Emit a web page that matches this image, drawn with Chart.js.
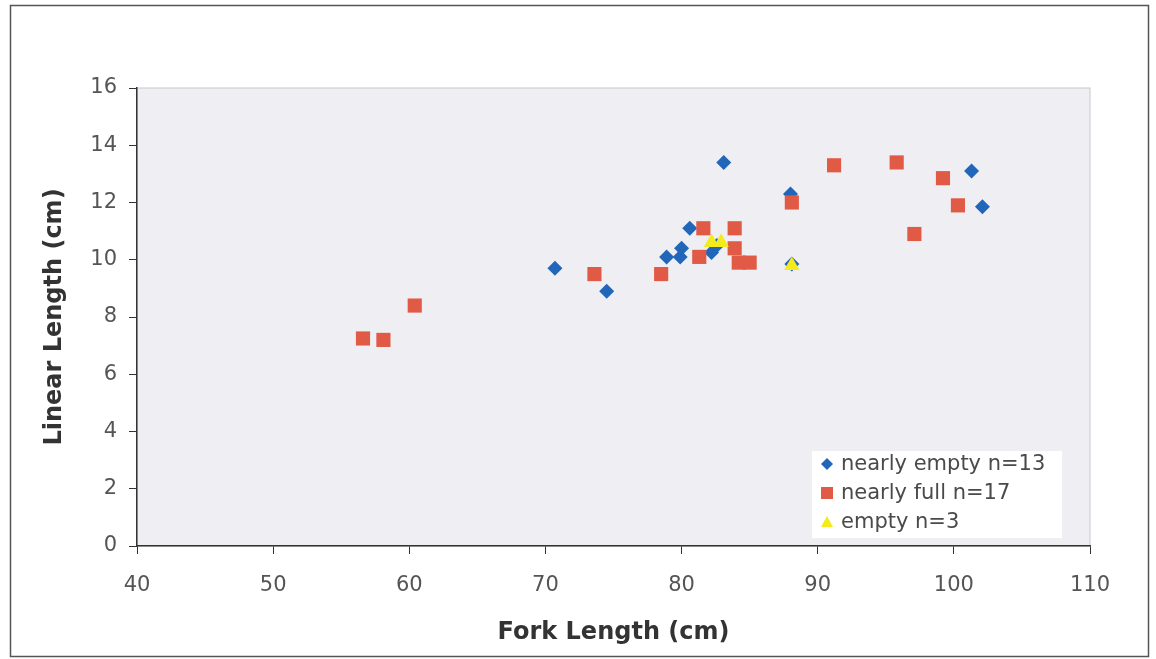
<!DOCTYPE html>
<html>
<head>
<meta charset="utf-8">
<script src="https://cdn.jsdelivr.net/npm/chart.js@4.4.1/dist/chart.umd.min.js"></script>
<style>
    html, body { margin: 0; padding: 0; background: #ffffff; }
    #caja { width: 1156px; height: 659px; position: relative; }
</style>
</head>
<body>
<div id="caja"><canvas id="grafico"></canvas></div>
<script>
//Datos
const casiVacioX = [70.7, 74.5, 83.1, 88.0, 80.6, 80.0, 79.9, 78.9, 82.2, 101.3, 102.1, 88.1, 82.6];
const casiVacioY = [9.7, 8.9, 13.4, 12.3, 11.1, 10.4, 10.1, 10.1, 10.25, 13.1, 11.85, 9.85, 10.5];
const casiLlenoX = [56.6, 58.1, 60.4, 73.6, 78.5, 81.6, 83.9, 81.3, 83.9, 84.2, 85.0, 88.1, 91.2, 95.8, 99.2, 100.3, 97.1];
const casiLlenoY = [7.25, 7.2, 8.4, 9.5, 9.5, 11.1, 11.1, 10.1, 10.4, 9.9, 9.9, 12.0, 13.3, 13.4, 12.85, 11.9, 10.9];
const vacioX = [82.2, 82.9, 88.1];
const vacioY = [10.6, 10.6, 9.8];
const etiquetas = ["nearly empty n=13", "nearly full n=17", "empty n=3"];

function puntos(xs, ys) {
    return xs.map((x, i) => ({ x: x, y: ys[i] }));
}

//Fondo del área, marco exterior y leyenda dentro del gráfico
const adornos = {
    id: "adornos",
    beforeDraw(chart) {
        const { ctx, chartArea } = chart;
        ctx.save();
        ctx.fillStyle = "#ffffff";
        ctx.fillRect(0, 0, chart.width, chart.height);
        ctx.strokeStyle = "#555555";
        ctx.lineWidth = 1.5;
        ctx.strokeRect(10.5, 5.5, 1138, 651);
        ctx.fillStyle = "#eeeef3";
        ctx.fillRect(chartArea.left, chartArea.top, chartArea.right - chartArea.left, chartArea.bottom - chartArea.top);
        ctx.strokeStyle = "#c8c8cc";
        ctx.lineWidth = 1;
        ctx.strokeRect(chartArea.left, chartArea.top, chartArea.right - chartArea.left, chartArea.bottom - chartArea.top);
        ctx.restore();
    },
    afterDraw(chart) {
        const { ctx } = chart;
        ctx.save();
        ctx.fillStyle = "#ffffff";
        ctx.fillRect(812, 451, 250, 87);
        ctx.font = "21px 'DejaVu Sans'";
        ctx.textBaseline = "middle";
        chart.data.datasets.forEach((ds, i) => {
            const y = 464 + i * 29;
            ctx.fillStyle = ds.backgroundColor;
            ctx.beginPath();
            if (ds.pointStyle === "rectRot") {
                ctx.moveTo(827, y - 6); ctx.lineTo(833, y); ctx.lineTo(827, y + 6); ctx.lineTo(821, y);
            } else if (ds.pointStyle === "rect") {
                ctx.rect(821, y - 6, 12, 12);
            } else {
                ctx.moveTo(827, y - 6); ctx.lineTo(833, y + 5); ctx.lineTo(821, y + 5);
            }
            ctx.closePath();
            ctx.fill();
            ctx.fillStyle = "#4a4a4a";
            ctx.fillText(ds.label, 841, y + 1);
        });
        ctx.restore();
    },
};

new Chart(document.getElementById("grafico"), {
    type: "scatter",
    data: {
        datasets: [
            {
                label: etiquetas[0],
                data: puntos(casiVacioX, casiVacioY),
                pointStyle: "rectRot",
                pointRadius: 7.5,
                backgroundColor: "#2166b8",
                borderColor: "#2166b8",
                borderWidth: 0,
                order: 2,
            },
            {
                label: etiquetas[1],
                data: puntos(casiLlenoX, casiLlenoY),
                pointStyle: "rect",
                pointRadius: 10,
                backgroundColor: "#e15a45",
                borderColor: "#e15a45",
                borderWidth: 0,
                order: 1,
            },
            {
                label: etiquetas[2],
                data: puntos(vacioX, vacioY),
                pointStyle: "triangle",
                pointRadius: 9,
                backgroundColor: "#f4ea1c",
                borderColor: "#f4ea1c",
                borderWidth: 0,
                order: 0,
            },
        ],
    },
    options: {
        responsive: true,
        maintainAspectRatio: false,
        animation: false,
        events: [],
        layout: {
            padding: { top: 88, right: 66, left: 38, bottom: 0 },
        },
        plugins: {
            legend: { display: false },
            tooltip: { enabled: false },
        },
        scales: {
            x: {
                type: "linear",
                min: 40,
                max: 110,
                afterFit: (escala) => { escala.height = 113; },
                ticks: {
                    stepSize: 10,
                    color: "#555555",
                    font: { family: "DejaVu Sans", size: 21 },
                    padding: 19,
                },
                grid: {
                    display: true,
                    drawOnChartArea: false,
                    drawTicks: true,
                    tickLength: 8,
                    color: "#333333",
                },
                border: { display: true, color: "#333333", width: 1.5 },
                title: {
                    display: true,
                    text: "Fork Length (cm)",
                    color: "#333333",
                    font: { family: "DejaVu Sans", size: 24, weight: "bold" },
                    padding: { top: 0, bottom: 12 },
                },
            },
            y: {
                min: 0,
                max: 16,
                afterFit: (escala) => { escala.width = 99; },
                ticks: {
                    stepSize: 2,
                    color: "#555555",
                    font: { family: "DejaVu Sans", size: 21 },
                    padding: 12,
                },
                grid: {
                    display: true,
                    drawOnChartArea: false,
                    drawTicks: true,
                    tickLength: 8,
                    color: "#333333",
                },
                border: { display: true, color: "#333333", width: 1.5 },
                title: {
                    display: true,
                    text: "Linear Length (cm)",
                    color: "#333333",
                    font: { family: "DejaVu Sans", size: 24, weight: "bold" },
                    padding: { top: 2, bottom: 0 },
                },
            },
        },
    },
    plugins: [adornos],
});
</script>
</body>
</html>
